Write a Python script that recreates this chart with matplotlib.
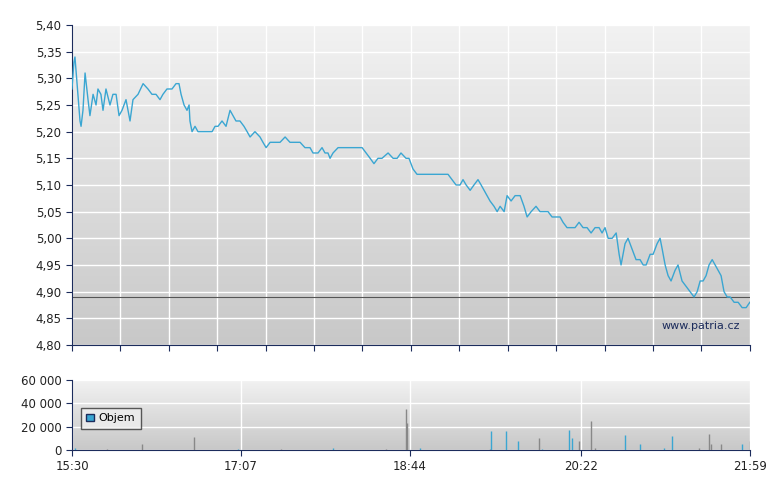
import numpy as np
import matplotlib
matplotlib.use("Agg")
import matplotlib.pyplot as plt
from matplotlib.patches import Patch

# minutes since 15:30
price_t = [0, 1.1, 1.7, 2.9, 4.6, 5.2, 6.3, 7.5, 9.2, 10.3, 12.1, 13.8, 14.9, 16.6, 17.8, 19.5, 21.8,
           23.5, 25.3, 27.0, 28.7, 31.0, 33.3, 35.0, 37.9, 40.8, 43.6, 45.9, 48.2, 50.5, 52.2, 54.5,
           57.4, 59.7, 61.4, 62.6, 64.3, 66.0, 67.2, 67.7, 68.9, 70.6, 72.3, 76.3, 80.4, 82.1, 83.8,
           86.1, 88.4, 90.7, 92.4, 94.1, 96.4, 98.7, 100.5, 102.2, 105.0, 107.9, 109.6, 111.4, 113.7,
           116.5, 119.4, 122.3, 125.1, 128.0, 130.9, 133.7, 136.6, 138.3, 141.2, 143.5, 145.2, 146.9,
           148.1, 149.8, 152.7, 155.0, 157.8, 160.7, 164.2, 166.5, 168.8, 171.1, 173.3, 175.6, 177.9,
           181.4, 184.3, 186.6, 188.8, 191.7, 193.4, 195.7, 198.0, 201.5, 205.5, 209.5, 213.0, 215.8,
           218.1, 220.4, 222.7, 224.4, 226.2, 228.5, 230.7, 233.0, 234.8, 236.5, 238.2, 239.9, 242.2,
           244.0, 245.7, 248.0, 249.7, 252.0, 254.3, 257.2, 259.4, 261.2, 263.5, 266.3, 268.6, 270.9,
           273.2, 275.5, 277.8, 280.1, 281.8, 284.1, 286.4, 288.7, 291.0, 293.3, 295.6, 297.9, 300.2,
           302.5, 304.2, 305.9, 307.7, 310.0, 312.3, 314.0, 315.1, 317.4, 319.1, 321.4, 323.7, 326.0,
           327.8, 329.5, 331.8, 333.5, 335.8, 337.5, 338.7, 340.4, 342.1, 343.8, 346.1, 347.8, 350.1,
           352.4, 354.7, 357.0, 358.8, 360.5, 362.2, 363.9, 365.6, 367.4, 369.1, 370.8, 372.5, 374.2,
           376.0, 377.7, 380.0, 382.3, 384.6, 386.9, 389]
price = [5.28, 5.33, 5.34, 5.29, 5.22, 5.21, 5.24, 5.31, 5.26, 5.23, 5.27, 5.25, 5.28, 5.27, 5.24, 5.28, 5.25,
         5.27, 5.27, 5.23, 5.24, 5.26, 5.22, 5.26, 5.27, 5.29, 5.28, 5.27, 5.27, 5.26, 5.27, 5.28,
         5.28, 5.29, 5.29, 5.27, 5.25, 5.24, 5.25, 5.22, 5.20, 5.21, 5.20, 5.20, 5.20, 5.21, 5.21,
         5.22, 5.21, 5.24, 5.23, 5.22, 5.22, 5.21, 5.20, 5.19, 5.20, 5.19, 5.18, 5.17, 5.18,
         5.18, 5.18, 5.19, 5.18, 5.18, 5.18, 5.17, 5.17, 5.16, 5.16, 5.17, 5.16, 5.16,
         5.15, 5.16, 5.17, 5.17, 5.17, 5.17, 5.17, 5.17, 5.16, 5.15, 5.14, 5.15, 5.15,
         5.16, 5.15, 5.15, 5.16, 5.15, 5.15, 5.13, 5.12, 5.12, 5.12, 5.12, 5.12, 5.12,
         5.11, 5.10, 5.10, 5.11, 5.10, 5.09, 5.10, 5.11, 5.10, 5.09, 5.08, 5.07, 5.06,
         5.05, 5.06, 5.05, 5.08, 5.07, 5.08, 5.08, 5.06, 5.04, 5.05, 5.06, 5.05, 5.05,
         5.05, 5.04, 5.04, 5.04, 5.03, 5.02, 5.02, 5.02, 5.03, 5.02, 5.02, 5.01, 5.02,
         5.02, 5.01, 5.02, 5.00, 5.00, 5.01, 4.97, 4.95, 4.99, 5.00, 4.98, 4.96, 4.96,
         4.95, 4.95, 4.97, 4.97, 4.99, 5.00, 4.98, 4.95, 4.93, 4.92, 4.94, 4.95, 4.92,
         4.91, 4.90, 4.89, 4.90, 4.92, 4.92, 4.93, 4.95, 4.96, 4.95, 4.94, 4.93, 4.90,
         4.89, 4.89, 4.88, 4.88, 4.87, 4.87, 4.88]
prev_close = 4.89

vol_t = [2, 20, 40, 70, 95, 120, 150, 180, 191.5, 192.5, 200, 240, 270, 300, 340, 360,
         240.5, 249.3, 256.2, 268.3, 285.5, 287.2, 291, 298, 317.4, 326, 344.3, 365.3, 367, 372.5, 384.6, 389]
vol = [1500, 1000, 5000, 11000, 1200, 800, 1500, 1000, 35000, 23000, 1500, 1000, 1200, 1500, 2000, 1800,
       16000, 16000, 8000, 10000, 17000, 10000, 8000, 25000, 13000, 5000, 12000, 14000, 5000, 5000, 5000, 8000]
vol_gray = [False, True, True, True, False, True, False, True, True, True, False, True, False, True, False, True,
            False, False, False, True, False, False, True, True, False, False, False, True, True, True, False, True]

BLUE = "#3aa6d2"
NAVY = "#1c2c5c"
xt = [0, 97, 194, 292, 389]
xl = ["15:30", "17:07", "18:44", "20:22", "21:59"]

fig = plt.figure(figsize=(7.8, 4.9), dpi=100)
ax = fig.add_axes([0.0923, 0.296, 0.869, 0.653])
axv = fig.add_axes([0.0923, 0.0816, 0.869, 0.143])

grad = np.linspace(0, 1, 256).reshape(-1, 1)
for a, lo, hi in [(ax, 4.80, 5.40), (axv, 0, 60000)]:
    a.imshow(grad, extent=[0, 389, lo, hi], aspect="auto", origin="upper",
             cmap=matplotlib.colors.LinearSegmentedColormap.from_list("g", ["#c8c8c8", "#f2f2f2"][::-1]),
             zorder=0)
    a.set_xlim(0, 389)
    a.set_ylim(lo, hi)
    for s in ["top", "right"]:
        a.spines[s].set_visible(False)
    for s in ["left", "bottom"]:
        a.spines[s].set_color(NAVY)
    a.tick_params(colors=NAVY, labelcolor="#222222", labelsize=8.5, direction="out", length=4)

# main price panel
ax.set_xticks(np.linspace(0, 389, 15))
ax.set_xticklabels([])
ax.grid(True, color="white", lw=1, zorder=1)
yt = np.arange(4.80, 5.401, 0.05)
ax.set_yticks(yt)
ax.set_yticklabels([f"{v:.2f}".replace(".", ",") for v in yt])
ax.axhline(prev_close, color="#555555", lw=0.8, zorder=2)
ax.plot(price_t, price, color=BLUE, lw=1, zorder=3)
ax.text(0.985, 0.06, "www.patria.cz", transform=ax.transAxes, ha="right", va="center",
        fontsize=8, color=NAVY)

# volume panel
axv.set_xticks(xt)
axv.set_xticklabels(xl)
axv.set_yticks([0, 20000, 40000, 60000])
axv.set_yticklabels(["0", "20 000", "40 000", "60 000"])
axv.grid(True, color="white", lw=1, zorder=1)
colors = ["#888888" if g else BLUE for g in vol_gray]
axv.vlines(vol_t, 0, vol, colors=colors, lw=1, zorder=3)
leg = axv.legend([Patch(facecolor=BLUE, edgecolor=NAVY)], ["Objem"], loc="center left",
                 bbox_to_anchor=(0.005, 0.45), fontsize=8, frameon=True, fancybox=False,
                 handlelength=0.7, handleheight=0.7, borderpad=0.5, handletextpad=0.4)
leg.get_frame().set_edgecolor("#333333")
leg.get_frame().set_facecolor("#eeeeee")

fig.savefig("out.png", dpi=100)
